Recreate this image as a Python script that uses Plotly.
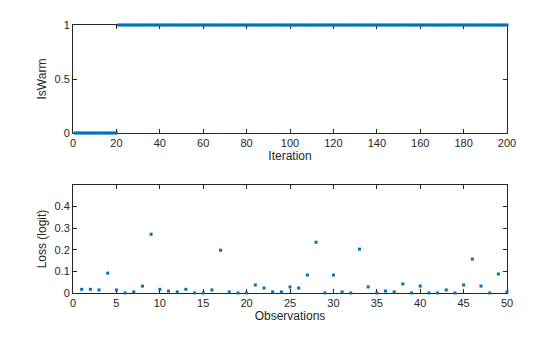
import plotly.graph_objects as go

# Warm-start indicator per iteration
iterations = list(range(1, 201))
is_warm = [0] * 20 + [1] * 180

# Per-observation logit loss
observations = list(range(1, 51))
loss_logit = [
    0.017, 0.017, 0.014, 0.092, 0.014, 0.000, 0.005, 0.032, 0.272, 0.017,
    0.009, 0.005, 0.017, 0.000, 0.000, 0.014, 0.198, 0.005, 0.000, 0.000,
    0.037, 0.023, 0.005, 0.005, 0.028, 0.023, 0.083, 0.235, 0.000, 0.083,
    0.005, 0.000, 0.203, 0.028, 0.000, 0.009, 0.005, 0.042, 0.000, 0.032,
    0.000, 0.000, 0.014, 0.000, 0.037, 0.157, 0.032, 0.000, 0.088, 0.005,
]

blue = "#0072BD"
axis_col = "#262626"
font = dict(family="Liberation Sans, Arial, sans-serif", size=11, color=axis_col)

fig = go.Figure()
fig.add_trace(go.Scatter(x=iterations, y=is_warm, mode="markers",
                         marker=dict(symbol="square", size=3, color=blue, line=dict(width=0)),
                         xaxis="x", yaxis="y", cliponaxis=False, showlegend=False))
fig.add_trace(go.Scatter(x=observations, y=loss_logit, mode="markers",
                         marker=dict(symbol="square", size=3, color=blue, line=dict(width=0)),
                         xaxis="x2", yaxis="y2", cliponaxis=False, showlegend=False))

common = dict(showgrid=False, zeroline=False, showline=True, linecolor=axis_col, linewidth=1,
              mirror="ticks", ticks="inside", ticklen=4, tickcolor=axis_col, tickwidth=1,
              automargin=False, layer="below traces", tickfont=dict(size=11, color=axis_col))

fig.update_layout(
    width=560, height=337,
    margin=dict(l=0, r=0, t=0, b=0),
    paper_bgcolor="white", plot_bgcolor="white",
    font=font,
    xaxis=dict(common, domain=[0.1304, 0.9054], anchor="y", range=[0, 200],
               tickvals=list(range(0, 201, 20)),
               title=dict(text="Iteration", font=dict(size=12, color=axis_col), standoff=3)),
    yaxis=dict(common, domain=[0.6053, 0.9258], anchor="x", range=[0, 1],
               tickvals=[0, 0.5, 1], ticktext=["0", "0.5", "1"],
               title=dict(text="IsWarm", font=dict(size=12, color=axis_col), standoff=5)),
    xaxis2=dict(common, domain=[0.1304, 0.9054], anchor="y2", range=[0, 50],
                tickvals=list(range(0, 51, 5)),
                title=dict(text="Observations", font=dict(size=12, color=axis_col), standoff=1)),
    yaxis2=dict(common, domain=[0.1306, 0.451], anchor="x2", range=[0, 0.5],
                tickvals=[0, 0.1, 0.2, 0.3, 0.4], ticktext=["0", "0.1", "0.2", "0.3", "0.4"],
                title=dict(text="Loss (logit)", font=dict(size=12, color=axis_col), standoff=5)),
)

fig.write_html("out.html")
